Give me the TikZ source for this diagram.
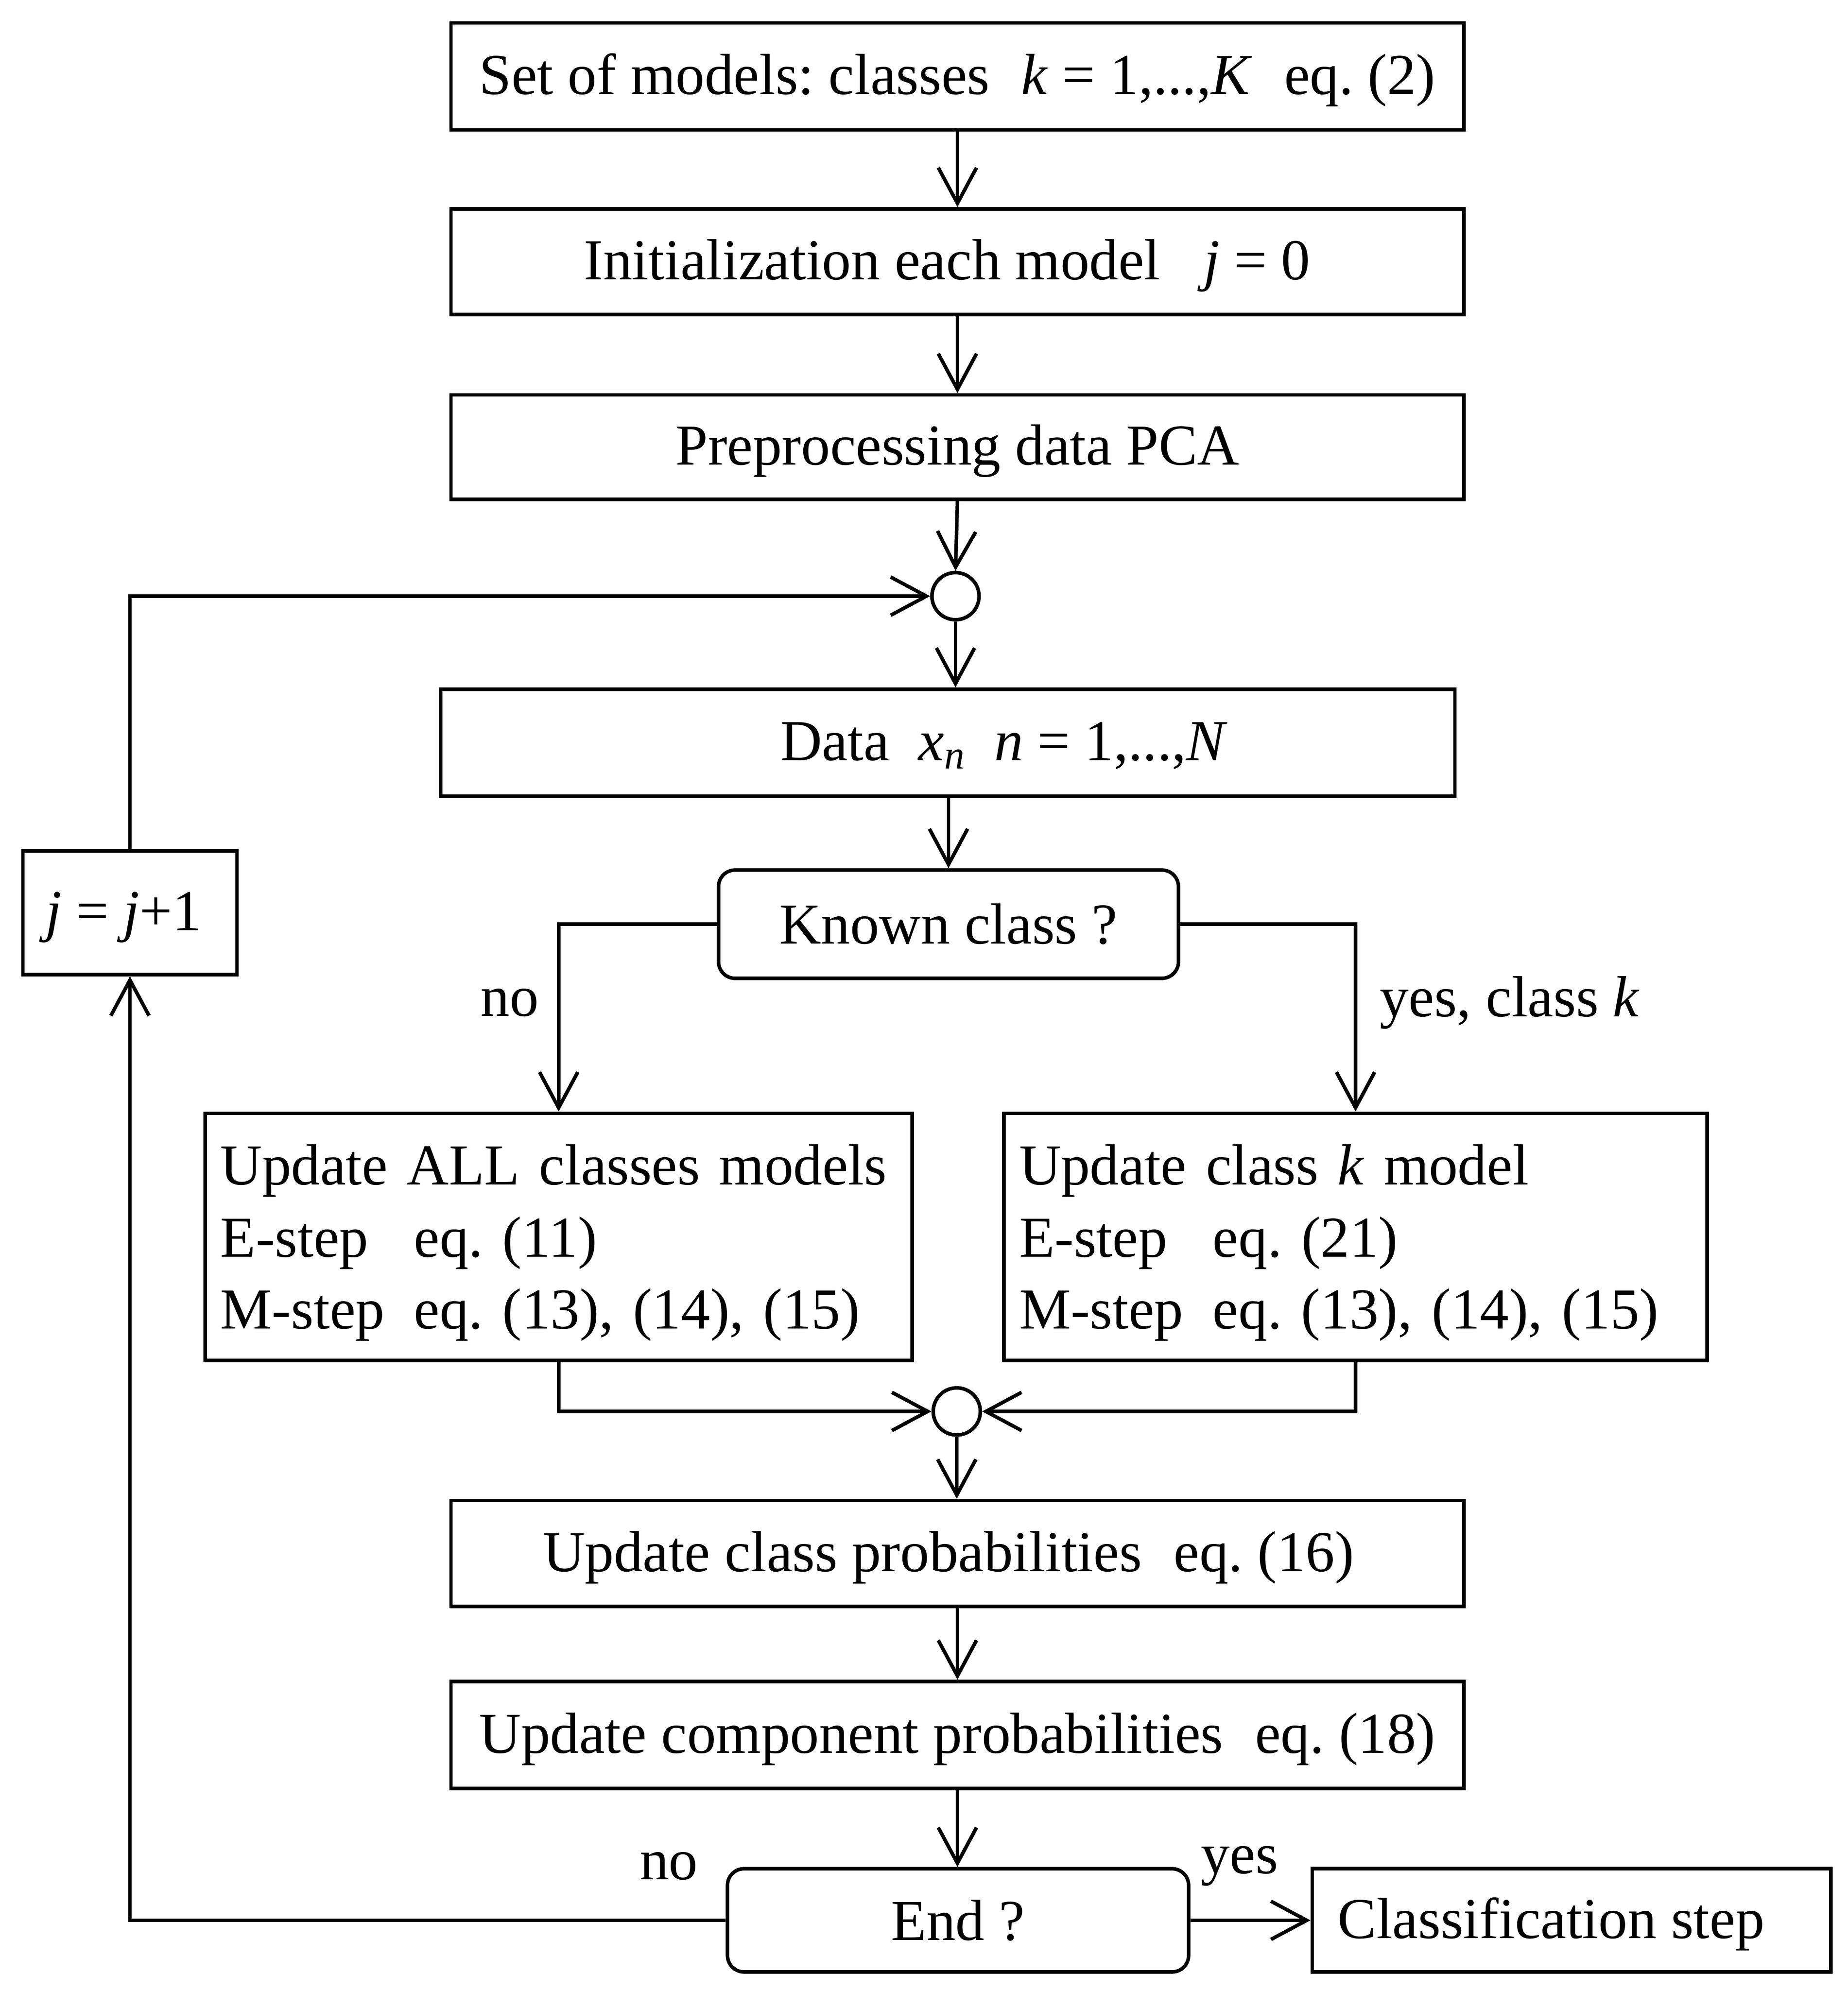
\documentclass[tikz,border=0pt]{standalone}
\usepackage{fontspec}
\setmainfont{Liberation Serif}
\usetikzlibrary{arrows.meta}
\frenchspacing
\begin{document}
\begin{tikzpicture}[x=1pt,y=-1pt,
  every node/.style={font=\fontsize{45.5}{56.5}\selectfont},
  box/.style={draw, line width=2.8pt, minimum width=795pt, minimum height=84pt, inner sep=0pt, text height=38pt, text depth=10pt},
  rbox/.style={draw, line width=2.8pt, rounded corners=13pt, inner sep=0pt},
  bigbox/.style={draw, line width=2.8pt, align=left, inner xsep=12pt, inner ysep=0pt, minimum height=194pt},
  junc/.style={draw, line width=2.8pt, circle, minimum size=37pt, inner sep=0pt},
  lab/.style={inner sep=0pt},
  conn/.style={line width=2.8pt},
  arr/.style={conn, -{Straight Barb[length=28pt,width=30pt]}}
]
\path[fill=white] (0,0) rectangle (1450.2,1562.2);
\useasboundingbox (0,0) rectangle (1450.2,1562.2);

\node[box] (b1) at (751.5,60) {Set of models: classes\hspace{0.3em} \textit{k} = 1,...,\textit{K}\hspace{0.3em} eq. (2)};
\node[box, minimum height=83pt] (b2) at (751.5,205.5) {Initialization each model\hspace{0.5em} \textit{j} = 0\hspace*{16pt}};
\node[box, minimum height=82pt] (b3) at (751.5,351) {Preprocessing data PCA};
\node[junc] (c1) at (750,468) {};
\node[box, minimum width=796pt] (data) at (744,583) {\hspace*{88pt}Data\hspace{0.25em} \textit{x}\textsubscript{\textit{n}}\hspace{0.25em} \textit{n} = 1,...,\textit{N}};
\node[rbox, minimum width=361pt, minimum height=85pt] (known) at (744.5,725.5) {Known class ?};
\node[bigbox, text width=531pt] (left) at (438.5,971) {\rule{0pt}{41pt}Update ALL classes models\\\makebox[152pt][l]{E-step}eq. (11)\\\makebox[152pt][l]{M-step}eq. (13), (14), (15)};
\node[bigbox, text width=528pt] (right) at (1064,971) {\rule{0pt}{41pt}Update class \textit{k} model\\\makebox[152pt][l]{E-step}eq. (21)\\\makebox[152pt][l]{M-step}eq. (13), (14), (15)};
\node[junc] (c2) at (751,1108) {};
\node[box, minimum height=83pt] (prob) at (751.5,1219.5) {Update class probabilities\hspace{0.3em} eq. (16)\hspace*{14pt}};
\node[box] (comp) at (751.5,1362) {Update component probabilities\hspace{0.3em} eq. (18)};
\node[rbox, minimum width=362pt, minimum height=81pt] (end) at (752,1507.5) {End ?};
\node[box, minimum width=407pt, minimum height=81pt] (cls) at (1233.5,1507.5) {Classification step\hspace*{32pt}};
\node[box, minimum width=168pt, minimum height=97pt] (jbox) at (102,716.5) {\textit{j} = \textit{j}+1\hspace*{10pt}};

\node[lab] (no1) at (400,787) {no};
\node[lab] (yes1) at (1185,787) {yes, class \textit{k}};
\node[lab] (no2) at (525,1465) {no};
\node[lab] (yes2) at (973,1465) {yes};

\draw[arr] (b1.south) -- (b2.north);
\draw[arr] (b2.south) -- (b3.north);
\draw[arr] (b3.south) -- (c1.north);
\draw[arr] (c1.south) -- (c1.south |- data.north);
\draw[arr] (data.south -| known.north) -- (known.north);
\draw[arr] (known.west) -| (left.north);
\draw[arr] (known.east) -| (right.north);
\draw[arr] (left.south) |- (c2.west);
\draw[arr] (right.south) |- (c2.east);
\draw[arr] (c2.south) -- (c2.south |- prob.north);
\draw[arr] (prob.south) -- (comp.north);
\draw[arr] (comp.south) -- (comp.south |- end.north);
\draw[arr] (end.east) -- (cls.west);
\draw[arr] (end.west) -| (jbox.south);
\draw[arr] (jbox.north) |- (c1.west);
\end{tikzpicture}
\end{document}
